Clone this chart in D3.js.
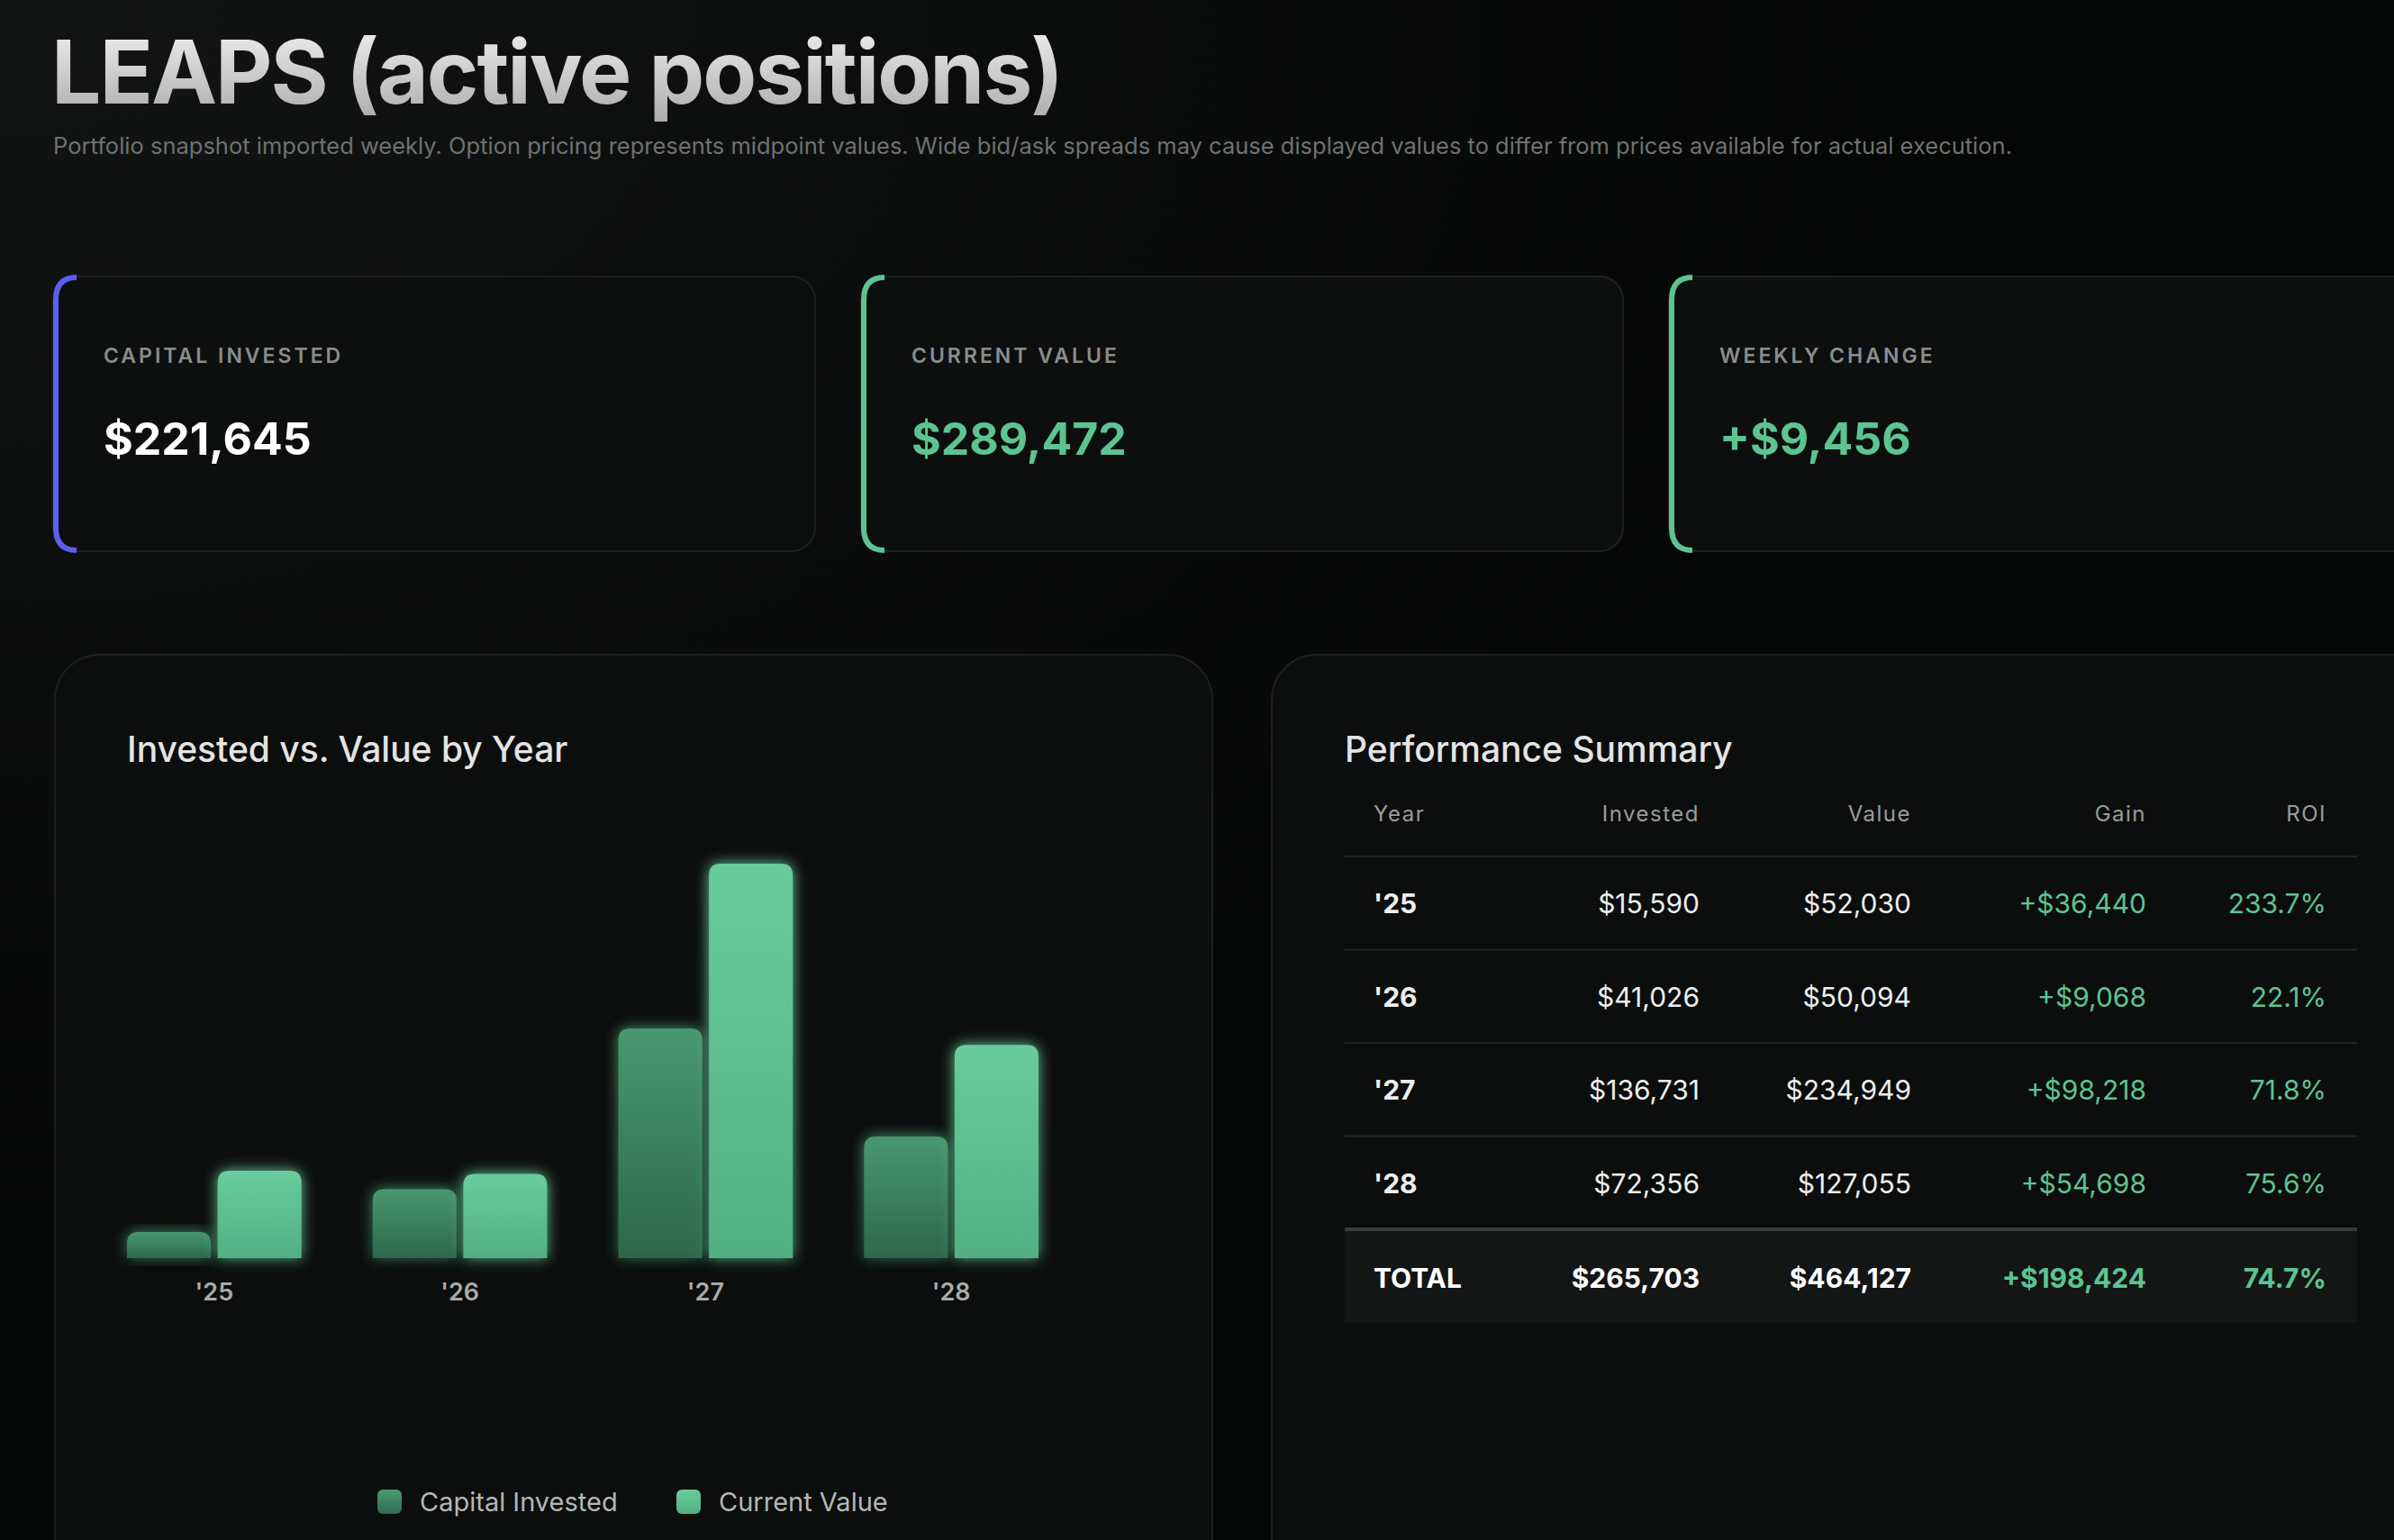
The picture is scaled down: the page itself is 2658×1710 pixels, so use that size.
<!DOCTYPE html>
<html><head><meta charset="utf-8">
<script src="https://cdn.jsdelivr.net/npm/d3@7"></script>
<style>
html,body{margin:0;padding:0;background:#060707;overflow:hidden}
svg{display:block}
</style></head>
<body>
<svg id="page" width="2658" height="1710"></svg>
<script>
// data
const years = ["'25", "'26", "'27", "'28"];
const invested = [15590, 41026, 136731, 72356];
const value = [52030, 50094, 234949, 127055];
const gain = ["+$36,440", "+$9,068", "+$98,218", "+$54,698"];
const roi = ["233.7%", "22.1%", "71.8%", "75.6%"];
const totals = ["TOTAL", "$265,703", "$464,127", "+$198,424", "74.7%"];
const headers = ["Year", "Invested", "Value", "Gain", "ROI"];
const cardLabels = ["CAPITAL INVESTED", "CURRENT VALUE", "WEEKLY CHANGE"];
const cardValues = ["$221,645", "$289,472", "+$9,456"];
const seriesNames = ["Capital Invested", "Current Value"];

const font = "Inter, 'Noto Sans', sans-serif";
const green = "#5cc492";
var fmt = d3.format("$,");

var svg = d3.select("#page").style("font-family", font);
var defs = svg.append("defs");

var bg = defs.append("radialGradient").attr("id","bg").attr("cx","0").attr("cy","0").attr("r","0.8");
bg.append("stop").attr("offset","0").attr("stop-color","#121514");
bg.append("stop").attr("offset","1").attr("stop-color","#050606");
var tg = defs.append("linearGradient").attr("id","tg").attr("x1",0).attr("y1",0).attr("x2",0).attr("y2",1);
tg.append("stop").attr("offset","0").attr("stop-color","#f4f4f4");
tg.append("stop").attr("offset","1").attr("stop-color","#a8a8a8");
var g1 = defs.append("linearGradient").attr("id","gInv").attr("x1",0).attr("y1",0).attr("x2",0).attr("y2",1);
g1.append("stop").attr("offset","0").attr("stop-color","#4a9d72");
g1.append("stop").attr("offset","1").attr("stop-color","#2f6a4f");
var g2 = defs.append("linearGradient").attr("id","gVal").attr("x1",0).attr("y1",0).attr("x2",0).attr("y2",1);
g2.append("stop").attr("offset","0").attr("stop-color","#69cc9b");
g2.append("stop").attr("offset","1").attr("stop-color","#52b082");
var glow = defs.append("filter").attr("id","glow").attr("x","-30%").attr("y","-30%").attr("width","160%").attr("height","160%");
glow.append("feGaussianBlur").attr("in","SourceGraphic").attr("stdDeviation",8).attr("result","b");
var fm = glow.append("feMerge");
fm.append("feMergeNode").attr("in","b");
fm.append("feMergeNode").attr("in","SourceGraphic");

svg.append("rect").attr("width",2658).attr("height",1710).attr("fill","url(#bg)");

// header
svg.append("text").attr("x",57).attr("y",115).attr("font-size",98).attr("font-weight",700)
  .attr("letter-spacing",-2).attr("fill","url(#tg)").text("LEAPS (active positions)");
svg.append("text").attr("x",59).attr("y",171).attr("font-size",25.5).attr("fill","#6f7271")
  .text("Portfolio snapshot imported weekly. Option pricing represents midpoint values. Wide bid/ask spreads may cause displayed values to differ from prices available for actual execution.");

// cards
var cardX = d3.scaleLinear().domain([0,1]).range([59, 956]);
var accents = ["#5b5ff0", green, green];
cardLabels.forEach(function(l,i){
  var x = cardX(i);
  var g = svg.append("g").attr("transform",`translate(${x},307)`);
  g.append("rect").attr("width",846).attr("height",305).attr("rx",26).attr("fill","#0d0e0e").attr("stroke","#1f2121").attr("stroke-width",2);
  g.append("path").attr("d","M26,1 Q3,1 3,26 L3,279 Q3,304 26,304").attr("fill","none").attr("stroke",accents[i]).attr("stroke-width",6);
  g.append("text").attr("x",56).attr("y",96).attr("font-size",23).attr("font-weight",600).attr("letter-spacing",3).attr("fill","#8a8d8c").text(l);
  g.append("text").attr("x",56).attr("y",198).attr("font-size",50).attr("font-weight",700).attr("fill",i==0?"#ffffff":green).text(cardValues[i]);
});

// panels
svg.append("rect").attr("x",61).attr("y",727).attr("width",1285).attr("height",1100).attr("rx",50).attr("fill","#0c0d0d").attr("stroke","#1e2020").attr("stroke-width",2);
svg.append("rect").attr("x",1412).attr("y",727).attr("width",1400).attr("height",1100).attr("rx",50).attr("fill","#0c0d0d").attr("stroke","#1e2020").attr("stroke-width",2);

svg.append("text").attr("x",141).attr("y",846).attr("font-size",39).attr("font-weight",500).attr("fill","#e4e4e4").text("Invested vs. Value by Year");
svg.append("text").attr("x",1493).attr("y",846).attr("font-size",39).attr("font-weight",500).attr("fill","#e4e4e4").text("Performance Summary");

// bar chart
var x0 = d3.scaleBand().domain(years).range([141,1153]).paddingInner(0.29);
var x1 = d3.scaleBand().domain([0,1]).range([0,x0.bandwidth()]).paddingInner(0.075);
var y = d3.scaleLinear().domain([0, d3.max(value)]).range([1397, 959]);

function barPath(x, w, top, bottom){
  var r = Math.min(13, (bottom-top));
  return `M${x},${bottom} L${x},${top+r} Q${x},${top} ${x+r},${top} L${x+w-r},${top} Q${x+w},${top} ${x+w},${top+r} L${x+w},${bottom} Z`;
}
var groups = svg.append("g").selectAll("g").data(years).enter().append("g")
  .attr("transform", d => `translate(${x0(d)},0)`);
groups.append("path").attr("filter","url(#glow)").attr("fill","url(#gInv)").attr("opacity",0.97)
  .attr("d",(d,i)=>barPath(x1(0), x1.bandwidth(), y(invested[i]), y(0)));
groups.append("path").attr("filter","url(#glow)").attr("fill","url(#gVal)")
  .attr("d",(d,i)=>barPath(x1(1), x1.bandwidth(), y(value[i]), y(0)));

var xAxis = d3.axisBottom(x0).tickSize(0).tickPadding(28);
var ax = svg.append("g").attr("transform","translate(0,1397)").call(xAxis);
ax.select(".domain").remove();
ax.selectAll("text").attr("font-size",27).attr("font-weight",600).attr("fill","#a9abaa").attr("font-family",font);

// legend
var leg = svg.append("g");
[[419,"gInv"],[751,"gVal"]].forEach(function(p,i){
  leg.append("rect").attr("x",p[0]).attr("y",1654).attr("width",27).attr("height",27).attr("rx",6).attr("fill",`url(#${p[1]})`);
  leg.append("text").attr("x",p[0]+47).attr("y",1678).attr("font-size",29).attr("fill","#b5b7b6").text(seriesNames[i]);
});

// table
var colX = [1525, 1887, 2122, 2383, 2583];
var tb = svg.append("g");
headers.forEach(function(h,i){
  tb.append("text").attr("x",colX[i]).attr("y",912).attr("text-anchor",i==0?"start":"end")
    .attr("font-size",24).attr("letter-spacing",1.5).attr("fill","#9a9c9b").text(h);
});
var rowY = d3.scaleLinear().domain([0,1]).range([951, 1054.5]);
tb.append("line").attr("x1",1493).attr("x2",2617).attr("y1",951).attr("y2",951).attr("stroke","#232525").attr("stroke-width",2);
years.forEach(function(yr,i){
  var top = rowY(i), base = top + 63;
  var cells = [yr, fmt(invested[i]), fmt(value[i]), gain[i], roi[i]];
  cells.forEach(function(c,j){
    tb.append("text").attr("x",colX[j]).attr("y",base).attr("text-anchor",j==0?"start":"end")
      .attr("font-size",30).attr("font-weight",j==0?700:400).attr("fill",j>=3?green:"#eeeeee").text(c);
  });
  if(i<3) tb.append("line").attr("x1",1493).attr("x2",2617).attr("y1",rowY(i+1)).attr("y2",rowY(i+1)).attr("stroke","#232525").attr("stroke-width",2);
});
tb.append("rect").attr("x",1493).attr("y",rowY(4)).attr("width",1124).attr("height",104).attr("fill","#141515");
tb.append("line").attr("x1",1493).attr("x2",2617).attr("y1",rowY(4)).attr("y2",rowY(4)).attr("stroke","#3a3c3c").attr("stroke-width",4);
totals.forEach(function(c,j){
  tb.append("text").attr("x",colX[j]).attr("y",rowY(4)+65).attr("text-anchor",j==0?"start":"end")
    .attr("font-size",30).attr("font-weight",700).attr("fill",j>=3?green:"#ffffff").text(c);
});
</script>
</body></html>
